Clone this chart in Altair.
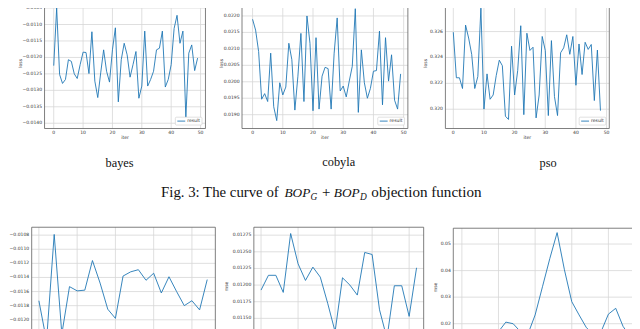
import altair as alt
import pandas as pd

# ---------------- data ----------------
bayes_loss = [-0.01225, -0.0105, -0.01252, -0.01279, -0.01267, -0.01207, -0.01212, -0.0125, -0.01264, -0.01222,
              -0.01184, -0.01185, -0.01249, -0.01122, -0.01272, -0.01322, -0.01247, -0.01177, -0.01242, -0.01275,
              -0.01177, -0.0111, -0.01335, -0.01207, -0.01157, -0.01192, -0.0126, -0.01222, -0.01182, -0.01324,
              -0.01287, -0.0112, -0.01287, -0.01267, -0.01242, -0.01177, -0.01172, -0.0112, -0.0129, -0.01267,
              -0.01222, -0.01112, -0.01072, -0.01157, -0.0112, -0.01382, -0.01187, -0.01162, -0.0124, -0.01202]
cobyla_loss = [0.0219, 0.02157, 0.02092, 0.01947, 0.01964, 0.0194, 0.02087, 0.01924, 0.01882, 0.01997,
               0.0196, 0.01984, 0.02117, 0.02067, 0.01914, 0.02017, 0.02147, 0.0194, 0.0220, 0.02117,
               0.01912, 0.02134, 0.01917, 0.02017, 0.02044, 0.0204, 0.01917, 0.02087, 0.02194, 0.01972,
               0.01987, 0.01954, 0.02002, 0.02047, 0.02222, 0.01907, 0.02097, 0.01997, 0.0195, 0.0198,
               0.02032, 0.02034, 0.02154, 0.0193, 0.02134, 0.02002, 0.02082, 0.01944, 0.01917, 0.02024]
pso_loss = [0.32595, 0.32243, 0.32243, 0.3216, 0.3265, 0.3255, 0.32424, 0.3216, 0.32253, 0.32781,
            0.32001, 0.32273, 0.32077, 0.3211, 0.3226, 0.32379, 0.32336, 0.31946, 0.31921, 0.32487,
            0.3211, 0.32298, 0.32645, 0.31958, 0.32587, 0.32454, 0.32479, 0.31933, 0.3211, 0.32562,
            0.32454, 0.31951, 0.3253, 0.32097, 0.31951, 0.32436, 0.32474, 0.32575, 0.32424, 0.32562,
            0.32185, 0.32504, 0.32268, 0.32517, 0.32462, 0.325, 0.32067, 0.32457, 0.31989]

bayes_mse = [-0.01173, -0.0123, -0.01079, -0.0122, -0.01153, -0.01159, -0.01158, -0.01116, -0.01148, -0.01185,
             -0.01198, -0.01138, -0.01132, -0.01129, -0.01144, -0.01134, -0.01162, -0.01139, -0.0116, -0.0118,
             -0.01173, -0.01186, -0.01143]
cobyla_mse = [0.011925, 0.012147, 0.012147, 0.01189, 0.012775, 0.01232, 0.01207, 0.01227, 0.01212, 0.011727,
              0.0113, 0.01211, 0.0120, 0.01185, 0.01249, 0.01246, 0.011629, 0.0112, 0.01199, 0.01199,
              0.01153, 0.01226]
pso_mse = [0.013, 0.015, 0.012, 0.016, 0.014, 0.017, 0.0206, 0.0200, 0.017, 0.016,
           0.0233, 0.0339, 0.0445, 0.0543, 0.0403, 0.0283, 0.0233, 0.0185, 0.016, 0.017,
           0.0236, 0.0258, 0.019, 0.015]

top_x_ticks = [0, 10, 20, 30, 40, 50]
bottom_x_ticks = [0, 5, 10, 15, 20]
bayes_y_ticks = [-0.0105, -0.0110, -0.0115, -0.0120, -0.0125, -0.0130, -0.0135, -0.0140]
cobyla_y_ticks = [0.0220, 0.0215, 0.0210, 0.0205, 0.0200, 0.0195, 0.0190]
pso_y_ticks = [0.328, 0.326, 0.324, 0.322, 0.320]
bayes_mse_y_ticks = [-0.0108, -0.0110, -0.0112, -0.0114, -0.0116, -0.0118, -0.0120]
cobyla_mse_y_ticks = [0.01275, 0.01250, 0.01225, 0.01200, 0.01175, 0.01150]
pso_mse_y_ticks = [0.05, 0.04, 0.03, 0.02, 0.01]

subcaptions = ["bayes", "cobyla", "pso"]
legend_label = "result"
x_title = "iter"
top_y_title = "loss"
bottom_y_title = "mse"

# ---------------- style / layout ----------------
M = 8  # page margin
BLUE = "#1f77b4"
GRID = "#d6d6d6"
FRAME = "#5e5e5e"
TXT = "#333333"
FONT = "DejaVu Sans"
TFS = 4.6
SERIF = "Liberation Serif"


def panel(values, xticks, yticks, yfmt, box, xdom, ydom, ytitle, ytitle_x):
    x0, x1, y0, y1 = [v - M for v in box]
    xs = alt.Scale(domain=xdom, range=[x0, x1], nice=False, zero=False)
    ys = alt.Scale(domain=ydom, range=[y1, y0], nice=False, zero=False)
    xlo, xhi = xdom
    ylo, yhi = ydom
    line_df = pd.DataFrame({"iter": list(range(len(values))), "value": values})
    xt = pd.DataFrame({"t": xticks})
    yt = pd.DataFrame({"t": yticks})
    one = pd.DataFrame({"k": [0]})

    def XF(f):
        return alt.X(f, scale=xs, axis=None)

    def YF(f):
        return alt.Y(f, scale=ys, axis=None)

    def XD(v):
        return alt.XDatum(v, type="quantitative", scale=xs, axis=None)

    def YD(v):
        return alt.YDatum(v, type="quantitative", scale=ys, axis=None)

    gx = alt.Chart(xt).mark_rule(color=GRID, strokeWidth=0.8).encode(
        x=XF("t:Q"), y=YD(ylo), y2=alt.Y2Datum(yhi))
    gy = alt.Chart(yt).mark_rule(color=GRID, strokeWidth=0.8).encode(
        y=YF("t:Q"), x=XD(xlo), x2=alt.X2Datum(xhi))
    line = alt.Chart(line_df).mark_line(color=BLUE, strokeWidth=0.9).encode(
        x=XF("iter:Q"), y=YF("value:Q"))
    frame = alt.Chart(one).mark_rect(fillOpacity=0, stroke=FRAME, strokeWidth=0.8).encode(
        x=XD(xlo), x2=alt.X2Datum(xhi), y=YD(ylo), y2=alt.Y2Datum(yhi))
    ylab = alt.Chart(yt).mark_text(align="right", baseline="middle", dx=-2.5, fontSize=TFS,
                                   font=FONT, color=TXT).encode(
        x=XD(xlo), y=YF("t:Q"), text=alt.Text("t:Q", format=yfmt))
    xlab = alt.Chart(xt).mark_text(align="center", baseline="top", dy=2, fontSize=TFS,
                                   font=FONT, color=TXT).encode(
        x=XF("t:Q"), y=YD(ylo), text=alt.Text("t:Q", format="d"))
    xtit = alt.Chart(one).mark_text(align="center", baseline="middle", fontSize=TFS,
                                    font=FONT, color=TXT).encode(
        x=alt.value((x0 + x1) / 2), y=alt.value(y1 + 9.5), text=alt.value(x_title))
    ytit = alt.Chart(one).mark_text(align="center", baseline="middle", angle=270, fontSize=TFS,
                                    font=FONT, color=TXT).encode(
        x=alt.value(ytitle_x - M), y=alt.value(y0 + 60), text=alt.value(ytitle))
    # legend (bottom-right, inside)
    bw, bh = 27, 8
    br, bb = x1 - 3.5, y1 - 3.5
    bl, bt = br - bw, bb - bh
    lbox = alt.Chart(one).mark_rect(fill="white", stroke="#cccccc", strokeWidth=0.6,
                                    cornerRadius=1).encode(
        x=alt.value(bl), x2=alt.value(br), y=alt.value(bt), y2=alt.value(bb))
    lline = alt.Chart(one).mark_rule(color=BLUE, strokeWidth=0.9).encode(
        x=alt.value(bl + 2), x2=alt.value(bl + 10), y=alt.value(bt + bh / 2))
    ltxt = alt.Chart(one).mark_text(align="left", baseline="middle", fontSize=TFS,
                                    font=FONT, color=TXT).encode(
        x=alt.value(bl + 12), y=alt.value(bt + bh / 2), text=alt.value(legend_label))
    return alt.layer(gx, gy, line, frame, ylab, xlab, xtit, ytit, lbox, lline, ltxt)


panels = [
    panel(bayes_loss, top_x_ticks, bayes_y_ticks, ".4f", (45, 208, 2, 128),
          [-3.13, 51.68], [-0.01416, -0.01038], top_y_title, 21),
    panel(cobyla_loss, top_x_ticks, cobyla_y_ticks, ".4f", (245, 413, 2, 128),
          [-3.5, 51.4], [0.01858, 0.02236], top_y_title, 225),
    panel(pso_loss, top_x_ticks, pso_y_ticks, ".3f", (451, 617, 2, 128),
          [-2.58, 50.88], [0.31851, 0.32812], top_y_title, 431),
    panel(bayes_mse, bottom_x_ticks, bayes_mse_y_ticks, ".4f", (32, 218, 228, 354),
          [-0.94, 23.06], [-0.012452, -0.010688], bottom_y_title, 3),
    panel(cobyla_mse, bottom_x_ticks, cobyla_mse_y_ticks, ".5f", (257, 429, 228, 354),
          [-0.97, 21.96], [0.011000, 0.012869], bottom_y_title, 230),
    panel(pso_mse, bottom_x_ticks, pso_mse_y_ticks, ".2f", (459, 646, 229, 354),
          [-1.17, 24.03], [0.00948, 0.05595], bottom_y_title, 441),
]

one = pd.DataFrame({"k": [0]})


def txt(s, x, y, size, italic=False, align="left"):
    return alt.Chart(one).mark_text(align=align, baseline="alphabetic", font=SERIF, fontSize=size,
                                    fontStyle="italic" if italic else "normal", color="#111111").encode(
        x=alt.value(x - M), y=alt.value(y - M), text=alt.value(s))


captions = [
    txt(subcaptions[0], 121, 167, 12.5, align="center"),
    txt(subcaptions[1], 343, 166, 12.5, align="center"),
    txt(subcaptions[2], 555, 167, 12.5, align="center"),
    txt("Fig. 3: The curve of", 163, 197, 15),
    txt("BOP", 288, 197, 13.5, italic=True),
    txt("G", 314.5, 200, 9.5, italic=True),
    txt("+", 326, 197, 15),
    txt("BOP", 338, 197, 13.5, italic=True),
    txt("D", 364.5, 200, 9.5, italic=True),
    txt("objection function", 376, 197, 15.3),
]

chart = alt.layer(*panels, *captions).resolve_scale(
    x="independent", y="independent"
).properties(
    width=632, height=321, padding=0,
    autosize=alt.AutoSizeParams(type="none", contains="padding"),
    background="white",
).configure_view(stroke=None)

chart.save("out.html", embed_options={"renderer": "svg", "actions": False})
